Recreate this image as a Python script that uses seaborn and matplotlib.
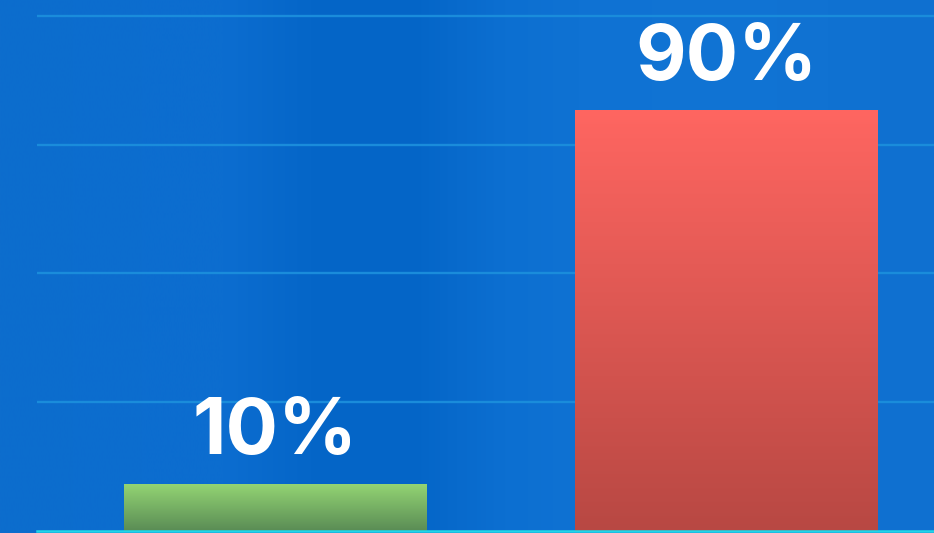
import numpy as np
import pandas as pd
import matplotlib
matplotlib.use("Agg")
import matplotlib.pyplot as plt
import seaborn as sns
from matplotlib.colors import LinearSegmentedColormap

# Chart data
categories = ["A", "B"]
values = [10, 90]
value_labels = ["10%", "90%"]
grid_levels = [27.5, 55, 82.5, 110]

# Vertical gradients for each bar (top colour, bottom colour)
bar_gradients = [("#93d473", "#5a8c55"), ("#ff6661", "#b84843")]

sns.set_theme(style="white")
W, H = 934, 533
fig = plt.figure(figsize=(W / 100, H / 100), dpi=100)

# Blue backdrop with soft vertical light bands
bg = fig.add_axes([0, 0, 1, 1])
bg.set_axis_off()
stops = [
    (0.00, "#0d6dcd"), (0.15, "#0c6dcf"), (0.24, "#0c6dd0"),
    (0.33, "#0566c8"), (0.44, "#0465c7"), (0.54, "#0c6fd1"),
    (0.62, "#0f72d3"), (0.78, "#1174d4"), (1.00, "#0f70d0"),
]
bg_cmap = LinearSegmentedColormap.from_list("backdrop", stops)
bg.imshow(np.linspace(0, 1, 400)[None, :], aspect="auto", cmap=bg_cmap,
          extent=[0, 1, 0, 1], interpolation="bicubic")
bg.set_xlim(0, 1)
bg.set_ylim(0, 1)

ax = fig.add_axes([37 / W, 2 / H, (W - 37) / W, 531 / H])
ax.patch.set_alpha(0)

df = pd.DataFrame({"category": categories, "value": values})
sns.barplot(data=df, x="category", y="value", hue="category",
            palette=[g[1] for g in bar_gradients], width=0.67,
            legend=False, ax=ax, zorder=2, linewidth=0, edgecolor="none")

ax.set_xlim(-0.528, 1.461)
ax.set_ylim(0, 113.4)

# Paint each bar with its vertical gradient
for patch, (top_c, bot_c) in zip(ax.patches, bar_gradients):
    x0, y0 = patch.get_x(), patch.get_y()
    w, h = patch.get_width(), patch.get_height()
    cmap = LinearSegmentedColormap.from_list("bar", [bot_c, top_c])
    im = ax.imshow(np.linspace(0, 1, 256)[:, None], cmap=cmap, aspect="auto",
                   origin="lower", extent=[x0, x0 + w, y0, y0 + h], zorder=3)
    im.set_clip_path(patch)

# Value labels above the bars
for i, (v, lab) in enumerate(zip(values, value_labels)):
    ax.text(i, v + 6.4, lab, ha="center", va="baseline", color="white",
            fontsize=56, fontweight="bold", family="Inter", zorder=4)

# Grid lines and baseline
ax.set_yticks(grid_levels)
ax.yaxis.grid(True, color="#1a8cdb", linewidth=1.7)
ax.xaxis.grid(False)
ax.set_axisbelow(True)
ax.tick_params(left=False, bottom=False, labelleft=False, labelbottom=False)
ax.set_xlabel("")
ax.set_ylabel("")
for side in ["left", "right", "top"]:
    ax.spines[side].set_visible(False)
ax.spines["bottom"].set_color("#22d6e8")
ax.spines["bottom"].set_linewidth(1.8)
ax.spines["bottom"].set_zorder(5)

fig.savefig("out.png", dpi=100)
